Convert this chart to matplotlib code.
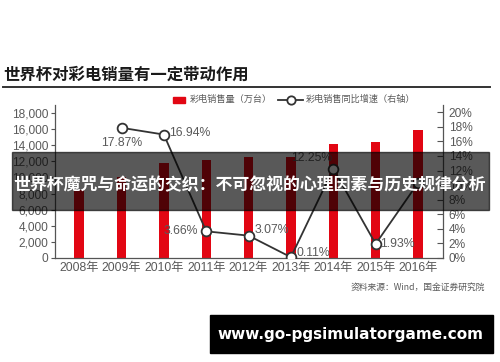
import matplotlib
matplotlib.use('Agg')
import matplotlib.pyplot as plt
from matplotlib.patches import Rectangle
from matplotlib.lines import Line2D
from matplotlib.ticker import FuncFormatter

plt.rcParams['font.family'] = ['Noto Sans CJK SC', 'DejaVu Sans']
num_font = ['Liberation Sans', 'Noto Sans CJK SC']

years = ['2008年', '2009年', '2010年', '2011年', '2012年', '2013年', '2014年', '2015年', '2016年']
sales = [8500, 10050, 11750, 12200, 12580, 12600, 14140, 14410, 15900]   # 万台
growth_years = [1, 2, 3, 4, 5, 6, 7, 8]
growth = [17.87, 16.94, 3.66, 3.07, 0.11, 12.25, 1.93, 10.3]  # %
growth_labels = ['17.87%', '16.94%', '3.66%', '3.07%', '0.11%', '12.25%', '1.93%', '']

# label offsets in points (dx, dy, ha)
label_pos = [(0, -11, 'center'), (4, 1, 'left'), (-6, 0, 'right'), (4, 4, 'left'),
             (4, 3, 'left'), (-1, 8, 'right'), (3, 0, 'left'), (0, 0, 'left')]

red = '#e20613'
grey = '#5a5a5a'
dark = '#333333'

fig = plt.figure(figsize=(5, 3.62), dpi=100)
ax = fig.add_axes([0.11, 0.2873, 0.776, 0.4227])
ax2 = ax.twinx()

x = list(range(len(years)))
ax.bar(x, sales, width=0.22, color=red, zorder=2)
ax.set_xlim(-0.57, 8.59)
ax.set_ylim(0, 19000)
ax.set_yticks(range(0, 18001, 2000))
ax.yaxis.set_major_formatter(FuncFormatter(lambda v, p: f'{int(v):,}'))
ax.set_xticks(x)
ax.set_xticklabels(years)

ax2.plot(growth_years, growth, color=dark, linewidth=1.3, marker='o', markersize=7,
         markerfacecolor='white', markeredgecolor=dark, markeredgewidth=1.3, zorder=3)
ax2.set_ylim(0, 21)
ax2.set_yticks(range(0, 21, 2))
ax2.yaxis.set_major_formatter(FuncFormatter(lambda v, p: f'{int(v)}%'))

for xi, yi, lab, (dx, dy, ha) in zip(growth_years, growth, growth_labels, label_pos):
    ax2.annotate(lab, (xi, yi), xytext=(dx, dy), textcoords='offset points',
                 ha=ha, va='center', fontsize=8.8, color=grey, family=num_font)

for a in (ax, ax2):
    a.spines['top'].set_visible(False)
    for s in a.spines.values():
        s.set_color('#555555')
        s.set_linewidth(0.9)
ax.spines['right'].set_visible(False)
ax2.spines['left'].set_visible(False)
ax2.spines['bottom'].set_visible(False)
ax.tick_params(axis='y', direction='out', length=3, colors='#555555', labelsize=8.6, labelcolor=grey, pad=2)
ax.tick_params(axis='x', length=0, labelsize=8.8, labelcolor=grey, pad=3)
ax2.tick_params(axis='y', direction='in', length=4, colors='#555555', labelsize=8.6, labelcolor=grey, pad=4)
for t in ax.get_yticklabels() + ax2.get_yticklabels() + ax.get_xticklabels():
    t.set_family(num_font)

# title and underline
fig.text(0.006, 1 - 75 / 362, '世界杯对彩电销量有一定带动作用', fontsize=11.8, fontweight='bold',
         color='#1a1a1a', va='center', ha='left')
fig.add_artist(Line2D([0.006, 0.98], [1 - 86.5 / 362] * 2, color='#333333', linewidth=1.4))

# legend
ly = 1 - 99.5 / 362
fig.add_artist(Rectangle((173 / 500, ly - 3 / 362), 12 / 500, 6 / 362, color=red))
fig.text(190 / 500, ly, '彩电销售量（万台）', fontsize=6.6, color=grey, va='center')
fig.add_artist(Line2D([278 / 500, 303 / 500], [ly, ly], color=dark, linewidth=1.3))
fig.add_artist(Line2D([290.5 / 500], [ly], color=dark, marker='o', markersize=6,
                      markerfacecolor='white', markeredgewidth=1.3, linestyle='none'))
fig.text(306 / 500, ly, '彩电销售同比增速（右轴）', fontsize=6.6, color=grey, va='center')

# source
fig.text(485 / 500, 1 - 287 / 362, '资料来源：Wind，国金证券研究院', fontsize=6.3, color=grey,
         ha='right', va='center')

# overlay banner
fig.add_artist(Rectangle((12 / 500, 1 - 210 / 362), 477 / 500, 58 / 362, color='black',
                         alpha=0.65, zorder=10))
fig.text(250 / 500, 1 - 185 / 362, '世界杯魔咒与命运的交织：不可忽视的心理因素与历史规律分析',
         fontsize=12.2, fontweight='bold', color='white', ha='center', va='center', zorder=11)

# watermark
fig.add_artist(Rectangle((210 / 500, 1 - 353 / 362), 283 / 500, 38 / 362, color='black', zorder=10))
fig.text(350 / 500, 1 - 335 / 362, 'www.go-pgsimulatorgame.com', fontsize=11, fontweight='bold',
         color='white', ha='center', va='center', family='DejaVu Sans', zorder=11)

fig.savefig('out.png', dpi=100)
